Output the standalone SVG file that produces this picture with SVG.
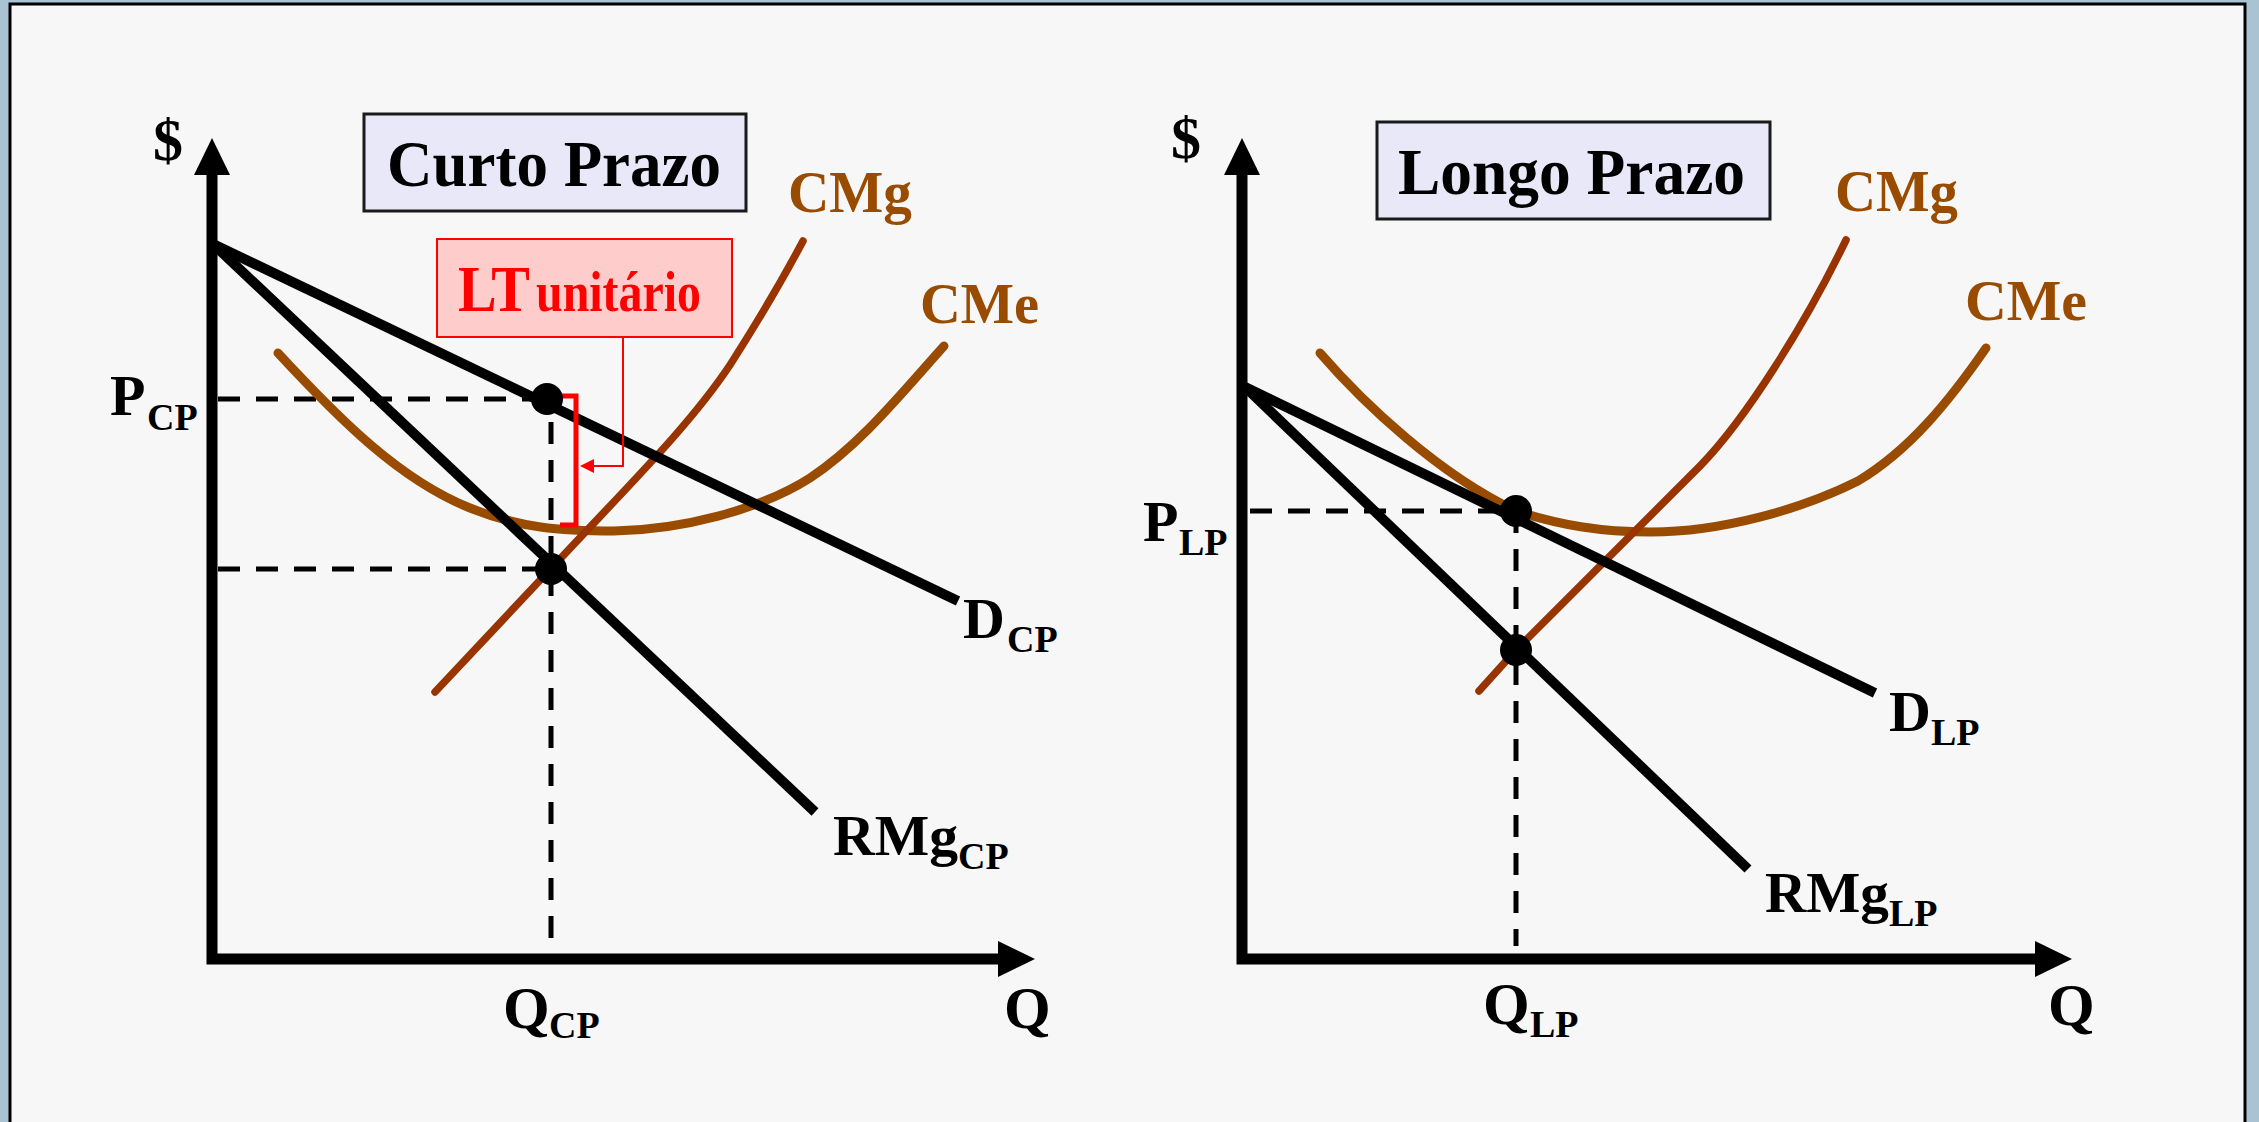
<svg xmlns="http://www.w3.org/2000/svg" width="2259" height="1122" viewBox="0 0 2259 1122">
<defs>
<style>
.t{font-family:"Liberation Serif","Times New Roman",serif;font-weight:bold;fill:#000}
.lab{font-size:58px}
.sub{font-size:38px}
.brn{fill:#994c00}
.red{fill:#ff0000}
.axis{fill:none;stroke:#000;stroke-width:11;stroke-linejoin:miter}
.ln{fill:none;stroke:#000;stroke-width:10;stroke-linecap:butt}
.dash{fill:none;stroke:#000;stroke-width:5;stroke-dasharray:22 16}
.cme{fill:none;stroke:#994c00;stroke-width:9;stroke-linejoin:round;stroke-linecap:round}
.cmg{fill:none;stroke:#993300;stroke-width:7.5;stroke-linejoin:round;stroke-linecap:round}
.title{fill:#e8e8f8;stroke:#1a1a1a;stroke-width:3}
</style>
<marker id="ah" markerUnits="userSpaceOnUse" markerWidth="40" markerHeight="40" viewBox="0 -20 40 40" refX="0" refY="0" orient="auto-start-reverse">
<path d="M0,-18 L37,0 L0,18 Z" fill="#000"/>
</marker>
<marker id="rh" markerUnits="userSpaceOnUse" markerWidth="16" markerHeight="16" viewBox="0 -8 16 16" refX="0" refY="0" orient="auto">
<path d="M0,-7 L14,0 L0,7 Z" fill="#ff0000"/>
</marker>
</defs>
<rect x="0" y="0" width="2259" height="1122" fill="#a9c3d3"/>
<rect x="10" y="4" width="2235" height="1130" fill="#f7f7f7" stroke="#000" stroke-width="3"/>

<g id="connectors">
<!-- left chart -->
<path class="axis" d="M212,175 L212,959 L998,959" marker-start="url(#ah)" marker-end="url(#ah)"/>
<path class="dash" d="M218,399 L547,399"/>
<path class="dash" d="M218,569 L551,569"/>
<path class="dash" d="M551,422 L551,946"/>
<path class="cme" d="M278,353 C340,420 400,480 470,508 C520,528 560,531 614,531 C680,530 760,510 810,478 C860,445 900,395 944,346"/>
<path class="cmg" d="M435,692 L560,559 C630,484 690,425 730,365 C760,318 785,275 803,241"/>
<path class="ln" d="M213,244 L958,601"/>
<path class="ln" d="M213,244 L815,812"/>
<path d="M560,396 L576,396 L576,525 L560,525" fill="none" stroke="#ff0000" stroke-width="5"/>
<path d="M623,337 L623,466 L594,466" fill="none" stroke="#ff0000" stroke-width="2" marker-end="url(#rh)"/>
<!-- right chart -->
<path class="axis" d="M1242,175 L1242,959 L2035,959" marker-start="url(#ah)" marker-end="url(#ah)"/>
<path class="dash" d="M1250,511 L1516,511"/>
<path class="dash" d="M1516,511 L1516,946"/>
<path class="cme" d="M1320,353 C1365,405 1440,475 1516,511 C1560,525 1600,532 1651,532 C1720,532 1800,510 1858,481 C1910,450 1950,400 1986,348"/>
<path class="cmg" d="M1479,691 L1516,650 L1700,466 C1745,420 1805,325 1846,240"/>
<path class="ln" d="M1245,387 L1875,693"/>
<path class="ln" d="M1245,387 L1748,869"/>
</g>

<g id="points">
<circle cx="547" cy="399" r="16" fill="#000"/>
<circle cx="551" cy="569" r="16" fill="#000"/>
<circle cx="1516" cy="511" r="16" fill="#000"/>
<circle cx="1516" cy="650" r="16" fill="#000"/>
</g>

<g id="title-curto">
<rect class="title" x="364" y="114" width="382" height="97"/>
<text class="t" x="387" y="186" font-size="65" textLength="334" lengthAdjust="spacingAndGlyphs">Curto Prazo</text>
</g>
<g id="title-longo">
<rect class="title" x="1377" y="122" width="393" height="97"/>
<text class="t" x="1398" y="194" font-size="65" textLength="347" lengthAdjust="spacingAndGlyphs">Longo Prazo</text>
</g>
<g id="lt-unitario">
<rect x="437" y="239" width="295" height="98" fill="#ffcccc" stroke="#ff0000" stroke-width="2"/>
<text class="t red" x="458" y="311" font-size="66" textLength="72" lengthAdjust="spacingAndGlyphs">LT</text>
<text class="t red" x="536" y="311" font-size="56" textLength="165" lengthAdjust="spacingAndGlyphs">unitário</text>
</g>

<g id="labels-left">
<text class="t" x="153" y="160" font-size="60">$</text>
<text class="t brn" x="788" y="212" font-size="60" textLength="124" lengthAdjust="spacingAndGlyphs">CMg</text>
<text class="t brn" x="920" y="323" font-size="58" textLength="119" lengthAdjust="spacingAndGlyphs">CMe</text>
<text class="t lab" x="110" y="415">P</text><text class="t sub" x="147" y="430">CP</text>
<text class="t lab" x="963" y="638">D</text><text class="t sub" x="1007" y="652">CP</text>
<text class="t lab" x="833" y="855" textLength="125" lengthAdjust="spacingAndGlyphs">RMg</text><text class="t sub" x="958" y="869">CP</text>
<text class="t" x="503" y="1028" font-size="60">Q</text><text class="t sub" x="549" y="1038">CP</text>
<text class="t" x="1004" y="1028" font-size="60">Q</text>
</g>
<g id="labels-right">
<text class="t" x="1171" y="158" font-size="60">$</text>
<text class="t brn" x="1835" y="211" font-size="60" textLength="123" lengthAdjust="spacingAndGlyphs">CMg</text>
<text class="t brn" x="1965" y="320" font-size="58" textLength="122" lengthAdjust="spacingAndGlyphs">CMe</text>
<text class="t lab" x="1143" y="541">P</text><text class="t sub" x="1179" y="555">LP</text>
<text class="t lab" x="1889" y="731">D</text><text class="t sub" x="1931" y="745">LP</text>
<text class="t lab" x="1765" y="912" textLength="124" lengthAdjust="spacingAndGlyphs">RMg</text><text class="t sub" x="1889" y="926">LP</text>
<text class="t" x="1483" y="1024" font-size="60">Q</text><text class="t sub" x="1530" y="1037">LP</text>
<text class="t" x="2048" y="1025" font-size="60">Q</text>
</g>
</svg>
